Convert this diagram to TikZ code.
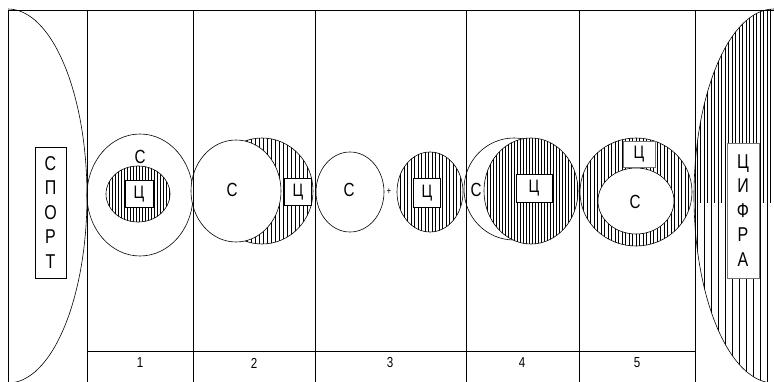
\documentclass[tikz,border=0pt]{standalone}
\usepackage{fontspec}
\setmainfont{Liberation Sans}[FakeStretch=0.8]

\tikzset{
  frame/.style={line width=0.7pt},
  rim/.style={line width=0.6pt},
  hatch/.style={line width=0.55pt},
  letter/.style={inner sep=0pt, font=\fontsize{19}{20}\selectfont},
  cbox/.style={draw, fill=white, line width=0.6pt, inner sep=0pt, font=\fontsize{18}{20}\selectfont},
  wordbox/.style={draw, fill=white, line width=0.6pt, align=center, inner sep=0pt, font=\fontsize{20}{24.5}\selectfont},
  num/.style={inner sep=0pt, font=\fontsize{14.5}{15}\selectfont}
}

% hatched ellipse: centre x, centre y, x radius, y radius, spacing
\newcommand{\hatchell}[5]{%
  \begin{scope}
    \clip (#1,#2) ellipse [x radius=#3, y radius=#4];
    \fill[white] (#1,#2) ellipse [x radius=#3, y radius=#4];
    \pgfmathtruncatemacro{\nh}{2*#3/#5}
    \foreach \k in {1,...,\nh}
      \draw[hatch] ({#1-#3+\k*#5},{#2-#4}) -- ({#1-#3+\k*#5},{#2+#4});
  \end{scope}
  \draw[rim] (#1,#2) ellipse [x radius=#3, y radius=#4];}

\begin{document}
\begin{tikzpicture}[x=1pt, y=-1pt]
    \useasboundingbox (0,0) rectangle (774,382);
    \clip (0,0) rectangle (774,382);

    % left half ellipse (sport)
    \begin{scope}
        \clip (8,0) rectangle (774,382);
        \draw[rim] (8,196) ellipse [x radius=79, y radius=187];
    \end{scope}

    % right half ellipse (digit), hatched
    \begin{scope}
        \clip (774,196) ellipse [x radius=80, y radius=187];
        \foreach \xx in {697,704,...,774}
            \draw[hatch] (\xx,0) -- (\xx,382);
        \foreach \xx in {700.5,707.5,...,774}
            \draw[hatch] (\xx,0) -- (\xx,203);
    \end{scope}
    \draw[rim] (774,196) ellipse [x radius=80, y radius=187];

    % column 1
    \draw[rim, fill=white] (140,195) ellipse [x radius=53, y radius=61];
    \hatchell{138}{194}{32}{28}{3}
    \node[letter] (s1) at (140,157) {С};
    \node[cbox, minimum width=28, minimum height=27] (c1) at (139,194) {Ц};

    % column 2
    \hatchell{262}{191}{51}{53}{4}
    \draw[rim, fill=white] (236,191) ellipse [x radius=45, y radius=51];
    \node[letter] (s2) at (232,190) {С};
    \node[cbox, minimum width=27, minimum height=27] (c2) at (298,192) {Ц};

    % column 3
    \draw[rim, fill=white] (350,192) ellipse [x radius=34, y radius=40];
    \node[letter] (s3) at (349,190) {С};
    \node[inner sep=0pt, font=\fontsize{10}{10}\selectfont] (plus) at (389,192) {+};
    \hatchell{430}{192}{33}{40}{3.5}
    \node[cbox, minimum width=27, minimum height=29] (c3) at (427,193) {Ц};

    % column 4
    \draw[rim, fill=white] (514,189) ellipse [x radius=50, y radius=51];
    \hatchell{531}{191}{47}{53}{3}
    \node[letter] (s4) at (476,190) {С};
    \node[cbox, minimum width=36, minimum height=28] (c4) at (534,188) {Ц};

    % column 5
    \hatchell{636}{192}{56}{54}{3.5}
    \draw[rim, fill=white] (636,201) ellipse [x radius=38, y radius=33];
    \node[letter] (s5) at (635,202) {С};
    \node[cbox, draw=black!55, minimum width=32, minimum height=26] (c5) at (639,154) {Ц};

    % frame and columns
    \draw[frame] (8,382) -- (8,10) -- (774,10);
    \foreach \xx in {87,193,315,466,579,695}
        \draw[frame] (\xx,10) -- (\xx,382);
    \draw[frame] (87,351) -- (695,351);

    % column numbers
    \node[num] (n1) at (140,363) {1};
    \node[num] (n2) at (254,363) {2};
    \node[num] (n3) at (390,363) {3};
    \node[num] (n4) at (522,363) {4};
    \node[num] (n5) at (637,363) {5};

    % word boxes
    \node[wordbox, minimum width=31, minimum height=131] (sport) at (50.5,212.5) {С\\П\\О\\Р\\Т};
    \node[wordbox, draw=black!55, minimum width=32, minimum height=135] (cifra) at (743,210.5) {Ц\\И\\Ф\\Р\\А};
\end{tikzpicture}
\end{document}
